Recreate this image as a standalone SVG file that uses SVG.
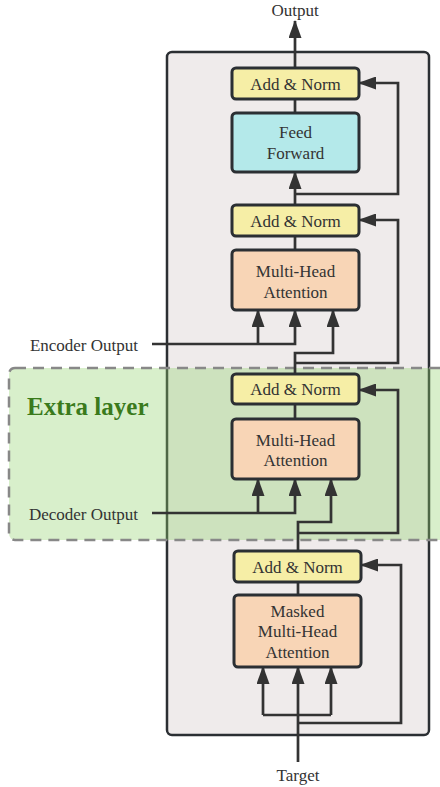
<svg xmlns="http://www.w3.org/2000/svg" width="440" height="787" viewBox="0 0 440 787">
  <style>
    .lbl { font-family: "Liberation Serif", "Times New Roman", serif; font-size: 17px; fill: #333; }
    .node rect { stroke: #2b2f33; stroke-width: 3; }
    .addnorm rect { fill: #f6eea6; }
    .ff rect { fill: #b4e9ea; }
    .mha rect { fill: #f8d5b6; }
    .node text { text-anchor: middle; }
    .wire { fill: none; stroke: #333; stroke-width: 2.7; }
    .arr { marker-end: url(#head); }
  </style>
  <defs>
    <marker id="head" markerUnits="userSpaceOnUse" markerWidth="18" markerHeight="13" refX="17" refY="6.5" orient="auto">
      <path d="M0,0 L18,6.5 L0,13 z" fill="#333"/>
    </marker>
  </defs>

  <!-- decoder block frame -->
  <rect id="decoder-block" x="167" y="52" width="262" height="683" rx="5" fill="#efebeb" stroke="#2b2f33" stroke-width="2.5"/>

  <!-- highlighted extra layer -->
  <g id="extra-layer">
    <rect x="9" y="368" width="440" height="172" rx="6" fill="#8fd16a" fill-opacity="0.35" stroke="#888" stroke-width="2.5" stroke-dasharray="11 7"/>
    <text x="27" y="415" font-family="Liberation Serif, serif" font-size="25" font-weight="bold" fill="#3a7a1c">Extra layer</text>
  </g>

  <!-- connectors -->
  <g id="connectors">
    <path class="wire arr" d="M295,68 V21"/>
    <path class="wire" d="M295,99 V113"/>
    <path class="wire arr" d="M295,205 V172"/>
    <path class="wire arr" d="M295,194 H398 V83 H359"/>
    <path class="wire" d="M295,236 V250"/>
    <path class="wire arr" d="M152,344 H295 V310"/>
    <path class="wire arr" d="M258,344 V310"/>
    <path class="wire arr" d="M295,374 V353 H333 V310"/>
    <path class="wire arr" d="M295,363 H398 V220 H359"/>
    <path class="wire" d="M295,404 V419"/>
    <path class="wire arr" d="M152,513 H295 V479"/>
    <path class="wire arr" d="M258,513 V479"/>
    <path class="wire arr" d="M298,551 V522 H331 V479"/>
    <path class="wire arr" d="M298,533 H398 V390 H359"/>
    <path class="wire" d="M298,582 V595"/>
    <path class="wire arr" d="M298,762 V667"/>
    <path class="wire" d="M263,715 H331"/>
    <path class="wire arr" d="M263,715 V667"/>
    <path class="wire arr" d="M331,715 V667"/>
    <path class="wire arr" d="M298,723 H401 V565 H361"/>
  </g>

  <!-- nodes -->
  <g id="addnorm-top" class="node addnorm">
    <rect x="232" y="68" width="127" height="31" rx="4"/>
    <text class="lbl" x="295.5" y="90">Add &amp; Norm</text>
  </g>
  <g id="feed-forward" class="node ff">
    <rect x="232" y="113" width="127" height="59" rx="4"/>
    <text class="lbl" x="295.5" y="138">Feed</text>
    <text class="lbl" x="295.5" y="159">Forward</text>
  </g>
  <g id="addnorm-cross" class="node addnorm">
    <rect x="232" y="205" width="127" height="31" rx="4"/>
    <text class="lbl" x="295.5" y="227">Add &amp; Norm</text>
  </g>
  <g id="mha-cross" class="node mha">
    <rect x="232" y="250" width="127" height="60" rx="4"/>
    <text class="lbl" x="295.5" y="277">Multi-Head</text>
    <text class="lbl" x="295.5" y="298">Attention</text>
  </g>
  <g id="addnorm-extra" class="node addnorm">
    <rect x="232" y="374" width="127" height="30" rx="4"/>
    <text class="lbl" x="295.5" y="395">Add &amp; Norm</text>
  </g>
  <g id="mha-extra" class="node mha">
    <rect x="232" y="419" width="127" height="60" rx="4"/>
    <text class="lbl" x="295.5" y="446">Multi-Head</text>
    <text class="lbl" x="295.5" y="466">Attention</text>
  </g>
  <g id="addnorm-self" class="node addnorm">
    <rect x="234" y="551" width="127" height="31" rx="4"/>
    <text class="lbl" x="297.5" y="573">Add &amp; Norm</text>
  </g>
  <g id="mha-masked" class="node mha">
    <rect x="234" y="595" width="127" height="72" rx="4"/>
    <text class="lbl" x="297.5" y="617">Masked</text>
    <text class="lbl" x="297.5" y="637">Multi-Head</text>
    <text class="lbl" x="297.5" y="658">Attention</text>
  </g>

  <!-- external labels -->
  <g id="output-label"><text class="lbl" x="295" y="16" text-anchor="middle">Output</text></g>
  <g id="encoder-output"><text class="lbl" x="138" y="351" text-anchor="end">Encoder Output</text></g>
  <g id="decoder-output"><text class="lbl" x="138" y="520" text-anchor="end">Decoder Output</text></g>
  <g id="target-label"><text class="lbl" x="298" y="781" text-anchor="middle">Target</text></g>
</svg>
